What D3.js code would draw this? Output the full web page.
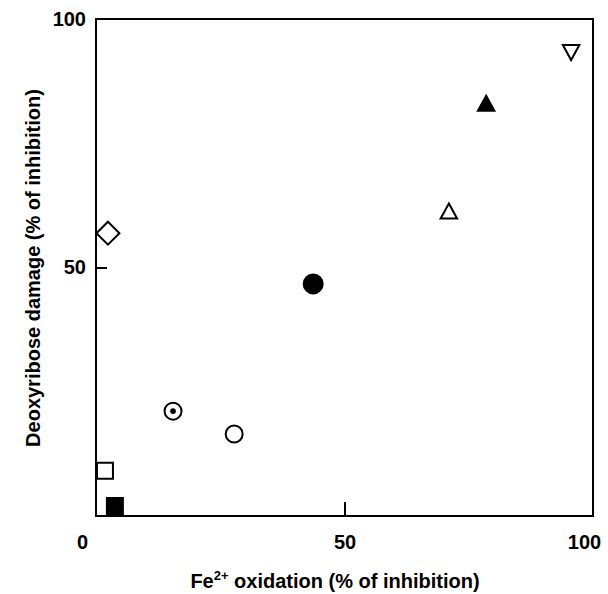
<!DOCTYPE html>
<html>
<head>
<meta charset="utf-8">
<script src="https://cdn.jsdelivr.net/npm/d3@7"></script>
<style>
  body { margin: 0; background: #fff; }
  text { font-family: "Liberation Sans", Arial, sans-serif; }
</style>
</head>
<body>
<script>
// values (% of inhibition)
const labels = ["downTri", "upTriFilled", "upTri", "diamond", "circleFilled", "circleDot", "circle", "square", "squareFilled"];
const fe2Oxidation = [95.6, 78.5, 71.0, 2.4, 43.7, 15.5, 27.8, 1.8, 3.8];
const deoxyDamage = [93.4, 82.9, 61.2, 56.9, 46.7, 21.1, 16.5, 9.1, 2.0];
const xTicks = [0, 50, 100];
const yTicks = [50, 100];

const W = 608, H = 594;
const margin = { top: 19, right: 15, bottom: 78, left: 96 };
const width = W - margin.left - margin.right,
    height = H - margin.top - margin.bottom;

const svg = d3.select("body").append("svg")
    .attr("width", W)
    .attr("height", H);

const g = svg.append("g")
    .attr("transform", "translate(" + margin.left + "," + margin.top + ")");

const x = d3.scaleLinear().domain([0, 100]).range([0, width]);
const y = d3.scaleLinear().domain([0, 100]).range([height, 0]);

// frame
g.append("rect")
    .attr("x", 0).attr("y", 0)
    .attr("width", width).attr("height", height)
    .attr("fill", "none")
    .attr("stroke", "#000")
    .attr("stroke-width", 2);

// x axis
const xAxis = g.append("g")
    .attr("transform", "translate(0," + height + ")")
    .call(d3.axisBottom(x).tickValues(xTicks).tickSizeInner(-14).tickSizeOuter(0).tickPadding(19));
xAxis.select(".domain").remove();
xAxis.selectAll(".tick line")
    .attr("stroke-width", 2)
    .attr("display", d => d == 50 ? null : "none");
xAxis.selectAll(".tick text")
    .attr("font-size", 20).attr("font-weight", "bold").attr("fill", "#000")
    .attr("dx", d => d == 0 ? -14 : (d == 100 ? -9 : 0));

// y axis
const yAxis = g.append("g")
    .call(d3.axisLeft(y).tickValues(yTicks).tickSizeInner(-11).tickSizeOuter(0).tickPadding(10));
yAxis.select(".domain").remove();
yAxis.selectAll(".tick line")
    .attr("stroke-width", 2)
    .attr("display", d => d == 50 ? null : "none");
yAxis.selectAll(".tick text")
    .attr("font-size", 20).attr("font-weight", "bold").attr("fill", "#000");

// axis titles
const xTitle = svg.append("text")
    .attr("x", 335)
    .attr("y", 588)
    .attr("text-anchor", "middle")
    .attr("font-size", 20).attr("font-weight", "bold");
xTitle.append("tspan").text("Fe");
xTitle.append("tspan").text("2+").attr("font-size", 13).attr("dy", -8);
xTitle.append("tspan").text(" oxidation (% of inhibition)").attr("dy", 8);

svg.append("text")
    .attr("transform", "translate(40,268) rotate(-90)")
    .attr("text-anchor", "middle")
    .attr("font-size", 20).attr("font-weight", "bold")
    .text("Deoxyribose damage (% of inhibition)");

// markers
const tri = (s) => `M0,${-s * 0.55}L${s * 0.55},${s * 0.45}L${-s * 0.55},${s * 0.45}Z`;
const triDown = (s) => `M0,${s * 0.55}L${s * 0.55},${-s * 0.45}L${-s * 0.55},${-s * 0.45}Z`;
const sq = (s) => `M${-s / 2},${-s / 2}h${s}v${s}h${-s}Z`;
const dia = (s) => `M0,${-s / 2}L${s / 2},0L0,${s / 2}L${-s / 2},0Z`;

const pts = labels.map((k, i) => ({ k: k, x: fe2Oxidation[i], y: deoxyDamage[i] }));

const m = g.selectAll(".pt")
    .data(pts)
    .enter()
    .append("g")
    .attr("class", "pt")
    .attr("transform", d => "translate(" + x(d.x) + "," + y(d.y) + ")");

m.each(function (d) {
    const s = d3.select(this);
    const filled = d.k.indexOf("Filled") >= 0;
    const fill = filled ? "#000" : "#fff";
    if (d.k == "downTri") s.append("path").attr("d", triDown(15));
    else if (d.k.startsWith("upTri")) s.append("path").attr("d", tri(15));
    else if (d.k == "diamond") s.append("path").attr("d", dia(23));
    else if (d.k.startsWith("square")) s.append("path").attr("d", sq(16));
    else {
        s.append("circle").attr("r", filled ? 9.5 : 8.5);
        if (d.k == "circleDot") s.append("circle").attr("r", 2.8).attr("class", "dot");
    }
    s.selectAll("path, circle:not(.dot)")
        .attr("fill", fill).attr("stroke", "#000").attr("stroke-width", 2);
    s.select(".dot").attr("fill", "#000");
});
</script>
</body>
</html>
